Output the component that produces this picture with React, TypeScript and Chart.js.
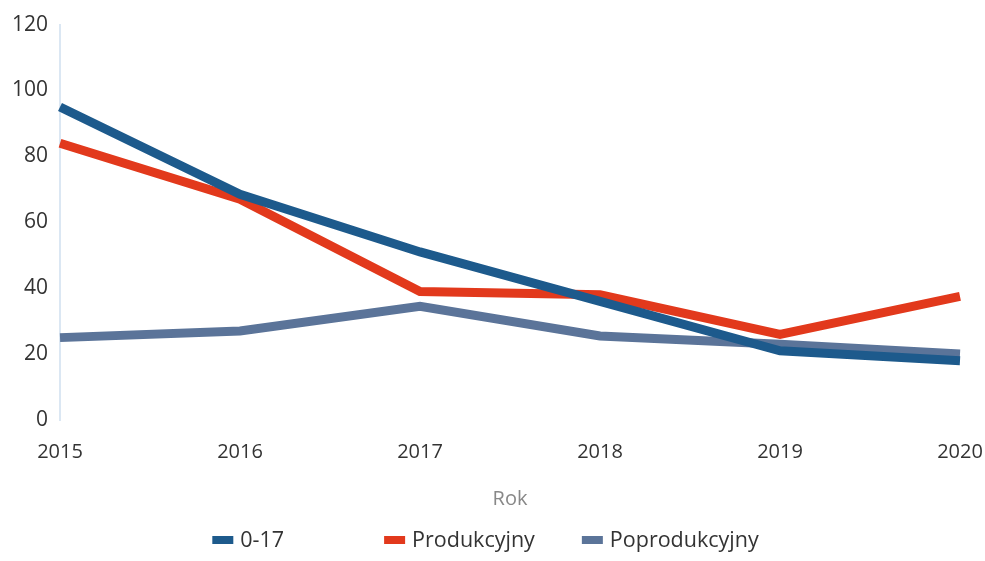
import React, { useEffect, useRef } from "react";
import { Chart, registerables } from "chart.js";

Chart.register(...registerables);

const years = ["2015", "2016", "2017", "2018", "2019", "2020"];
const youth = [95, 68.5, 51, 36, 21, 18];
const working = [84, 67, 39, 38, 26, 37.5];
const retired = [25, 27, 34.5, 25.5, 23, 20];
const yTicks = [0, 20, 40, 60, 80, 100, 120];
const seriesNames = ["0-17", "Produkcyjny", "Poprodukcyjny"];
const seriesColors = ["#1d5a8c", "#e2391c", "#5b7499"];
const legendGaps = [100, 47];

const FONT = "'Open Sans', sans-serif";

const bottomLegend = {
  id: "bottomLegend",
  afterDraw(chart: any) {
    const ctx = chart.ctx as CanvasRenderingContext2D;
    ctx.save();
    ctx.font = `21.5px ${FONT}`;
    ctx.textBaseline = "middle";
    const boxW = 21, boxH = 8, boxGap = 7;
    const widths = seriesNames.map((n) => boxW + boxGap + ctx.measureText(n).width);
    const total = widths.reduce((a, b) => a + b, 0) + legendGaps.reduce((a, b) => a + b, 0);
    let x = chart.width / 2 - 7 - total / 2;
    const y = chart.height - 21;
    seriesNames.forEach((n, i) => {
      ctx.fillStyle = seriesColors[i];
      ctx.fillRect(x, y - boxH / 2, boxW, boxH);
      ctx.fillStyle = "#333";
      ctx.fillText(n, x + boxW + boxGap, y + 1);
      x += widths[i] + (legendGaps[i] || 0);
    });
    ctx.restore();
  },
};

export default function App() {
  const ref = useRef<HTMLCanvasElement | null>(null);
  useEffect(() => {
    if (!ref.current) return;
    const mk = (i: number, data: number[]) => ({
      label: seriesNames[i],
      data,
      borderColor: seriesColors[i],
      backgroundColor: seriesColors[i],
      borderWidth: 9,
      pointRadius: 0,
      tension: 0,
    });
    const chart = new Chart(ref.current, {
      type: "line",
      data: {
        labels: years,
        datasets: [mk(0, youth), mk(1, working), mk(2, retired)],
      },
      options: {
        animation: false,
        responsive: true,
        maintainAspectRatio: false,
        layout: { autoPadding: false, padding: { left: 0, right: 25, top: 22, bottom: 50 } },
        plugins: {
          legend: { display: false },
          tooltip: { enabled: false },
        },
        scales: {
          x: {
            offset: false,
            grid: { display: false, drawTicks: false },
            border: { display: false },
            ticks: { color: "#333", font: { family: FONT, size: 20 }, padding: 20, maxRotation: 0 },
            title: { display: true, text: "Rok", color: "#888", font: { family: FONT, size: 20 }, padding: { top: 3, bottom: 0 } },
            afterFit: (s: any) => { s.paddingLeft = 0; s.paddingRight = 0; },
          },
          y: {
            min: 0,
            max: 120,
            afterBuildTicks: (axis: any) => { axis.ticks = yTicks.map((v) => ({ value: v })); },
            grid: { display: false, drawTicks: false },
            border: { display: true, color: "#dbe7f3", width: 2 },
            ticks: { color: "#333", font: { family: FONT, size: 21 }, padding: 12 },
            afterFit: (s: any) => { s.width = 60; },
          },
        },
      },
      plugins: [bottomLegend],
    });
    return () => chart.destroy();
  }, []);
  return (
    <div style={{ position: "fixed", left: 0, top: 0, width: 985, height: 561, background: "#fff" }}>
      <canvas ref={ref} />
    </div>
  );
}
